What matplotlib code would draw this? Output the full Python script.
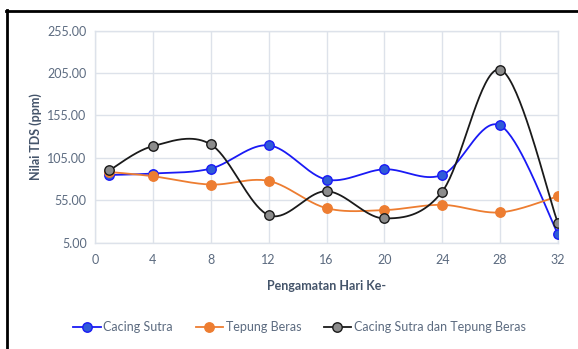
import numpy as np
import matplotlib
matplotlib.use("Agg")
import matplotlib.pyplot as plt
from matplotlib.lines import Line2D

plt.rcParams['font.family'] = ['Lato', 'DejaVu Sans']

days = [1, 4, 8, 12, 16, 20, 24, 28, 32]
cacing_sutra = [84.8, 86.5, 92.3, 119.7, 79.4, 91.5, 84.8, 143.1, 15.2]
tepung_beras = [88.3, 83.3, 73.5, 77.8, 45.7, 43.4, 49.6, 40.7, 59.8]
campuran = [90.3, 118.8, 120.8, 37.5, 65.7, 33.6, 65.3, 208.9, 27.8]

series_names = ["Cacing Sutra", "Tepung Beras", "Cacing Sutra dan Tepung Beras"]
x_ticks = [0, 4, 8, 12, 16, 20, 24, 28, 32]
y_ticks = [5, 55, 105, 155, 205, 255]


def smooth_curve(xs, ys, n=40):
    """Cubic Bezier smoothing through the points (Catmull-Rom style control points)."""
    p = np.column_stack([xs, ys]).astype(float)
    ext = np.vstack([p[0], p, p[-1]])
    out = []
    t = np.linspace(0, 1, n)[:, None]
    for i in range(len(p) - 1):
        p0, p1, p2, p3 = ext[i], ext[i + 1], ext[i + 2], ext[i + 3]
        c1 = p1 + (p2 - p0) / 6.0
        c2 = p2 - (p3 - p1) / 6.0
        seg = ((1 - t) ** 3) * p1 + 3 * ((1 - t) ** 2) * t * c1 + 3 * (1 - t) * t ** 2 * c2 + t ** 3 * p2
        out.append(seg if i == 0 else seg[1:])
    pts = np.vstack(out)
    return pts[:, 0], pts[:, 1]


fig = plt.figure(figsize=(5.78, 3.49), dpi=100)
ax = fig.add_axes([0.1644, 0.3046, 0.8010, 0.6080])

styles = [
    dict(color="#1A1AF5", mfc="#2F5BD8", mec="#1A1AF5"),
    dict(color="#ED7D31", mfc="#ED7D31", mec="#ED7D31"),
    dict(color="#1A1A1A", mfc="#8C8C8C", mec="#1A1A1A"),
]

for vals, st in zip([cacing_sutra, tepung_beras, campuran], styles):
    sx, sy = smooth_curve(days, vals)
    ax.plot(sx, sy, color=st["color"], lw=1.3, zorder=3, solid_capstyle="round")
    ax.plot(days, vals, ls="none", marker="o", ms=6.8, mfc=st["mfc"],
            mec=st["mec"], mew=1.0, zorder=4)

ax.set_xlim(0, 32)
ax.set_ylim(5, 255)
ax.set_xticks(x_ticks)
ax.set_yticks(y_ticks)
ax.set_yticklabels([f"{v:.2f}" for v in y_ticks])
ax.grid(True, color="#DDE2EA", lw=1.0, zorder=0)
for s in ax.spines.values():
    s.set_color("#DDE2EA")
    s.set_linewidth(1.0)
ax.tick_params(length=0, labelsize=9, colors="#5C6B80", pad=8)
ax.tick_params(axis="y", pad=6)

ax.set_xlabel("Pengamatan Hari Ke-", fontsize=9, fontweight="bold", color="#44546A", labelpad=10)
ax.set_ylabel("Nilai TDS (ppm)", fontsize=9, fontweight="bold", color="#44546A", labelpad=4)

handles = [Line2D([0], [0], color=st["color"], lw=1.3, marker="o", ms=6.8,
                  mfc=st["mfc"], mec=st["mec"], mew=1.0) for st in styles]
leg = fig.legend(handles, series_names, loc="center", bbox_to_anchor=(0.518, 0.063),
                 ncol=3, frameon=False, fontsize=9, handlelength=2.2, handletextpad=0.2,
                 columnspacing=1.8)
for t in leg.get_texts():
    t.set_color("#5C6B80")

# frame lines along the top and left edges
fig.add_artist(Line2D([0.010, 1.0], [1 - 11 / 349, 1 - 11 / 349], transform=fig.transFigure,
                      color="black", lw=2.0))
fig.add_artist(Line2D([7 / 578, 7 / 578], [0, 1 - 10 / 349], transform=fig.transFigure,
                      color="black", lw=2.0))

fig.savefig("out.png", dpi=100)
